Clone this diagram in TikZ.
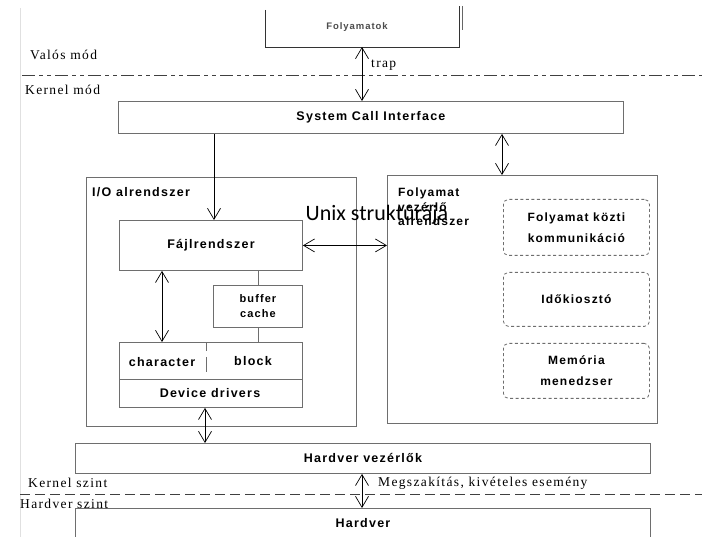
\documentclass[tikz,border=0pt]{standalone}
\usepackage{fontspec}
\setmainfont{Liberation Serif}
\newfontfamily\bx[LetterSpace=10]{Liberation Sans}
\newfontfamily\lb[LetterSpace=10]{Liberation Serif}
\newfontfamily\calfont{Carlito}
\usetikzlibrary{arrows.meta,calc}
\definecolor{boxgray}{RGB}{110,110,110}
\tikzset{
  box/.style={draw=boxgray, line width=0.9pt, rectangle, inner sep=0pt},
  dbox/.style={draw=boxgray, line width=0.8pt, rounded corners=5pt, dash pattern=on 3pt off 2.5pt, inner sep=0pt},
  btxt/.style={font=\bx\bfseries\fontsize{12.5}{14}\selectfont, align=center, inner sep=0pt},
  stxt/.style={font=\bx\bfseries\fontsize{12}{21}\selectfont, align=center, inner sep=0pt},
  ltxt/.style={font=\lb\fontsize{13.5}{15}\selectfont, anchor=base west, inner sep=0pt},
  dbl/.style={line width=0.7pt, {Straight Barb[length=11pt,width=13pt,line width=0.7pt]}-{Straight Barb[length=11pt,width=13pt,line width=0.7pt]}},
  one/.style={line width=0.7pt, -{Straight Barb[length=11pt,width=13pt,line width=0.7pt]}},
  plain/.style={line width=0.9pt, draw=boxgray}
}
\begin{document}
\begin{tikzpicture}[x=1pt,y=-1pt]
\useasboundingbox (0,0) rectangle (702,537);
% faint left border
\draw[black!12, line width=0.8pt] (20,8) -- (20,537);
% top box (open at top)
\draw[line width=0.9pt, black!80] (265,10) -- (265,47) -- (459,47) -- (459,6);
\draw[line width=0.6pt, black!60] (462,6) -- (462,30);
\node[font=\bx\bfseries\fontsize{9.5}{11}\selectfont, text=black!70] (user) at (357,27) {Folyamatok};
\coordinate (topb) at (362,47);
% mode labels and line
\node[ltxt] (valos) at (30,60) {Valós mód};
\node[ltxt] (kmod) at (25,95) {Kernel mód};
\coordinate (d1a) at (22,75);
\coordinate (d1b) at (702,75);
\draw[line width=0.8pt, black!75, dash pattern=on 13pt off 4pt on 4pt off 4pt on 4pt off 4pt] (d1a) -- (d1b);
% System call interface
\node[box, minimum width=505pt, minimum height=32pt, anchor=north west] (sci) at (118,101) {};
\node[btxt] at (sci.center) {System Call Interface};
\coordinate (scitop) at (362,101);
\draw[dbl] (topb) -- (scitop);
\node[ltxt] (trap) at (371,68) {trap};
% I/O subsystem
\node[box, minimum width=270pt, minimum height=249pt, anchor=north west] (io) at (86,177) {};
\node[btxt, anchor=base west] (iol) at (92,197) {I/O alrendszer};
\node[box, minimum width=183pt, minimum height=50pt, anchor=north west] (fs) at (119,220) {};
\node[btxt] at (fs.center) {Fájlrendszer};
\node[box, minimum width=89pt, minimum height=42pt, anchor=north west] (buf) at (213,285) {};
\node[stxt, font=\bx\bfseries\fontsize{11}{21}\selectfont] at (buf.center) {buffer\\[-6pt]cache};
\node[box, minimum width=183pt, minimum height=65pt, anchor=north west] (dd) at (119,342) {};
\draw[plain] (119,379) -- (302,379);
\draw[plain] (206,343) -- (206,351);
\draw[plain] (206,357) -- (206,372);
\node[btxt] (chr) at (162,362) {character};
\node[btxt] (blk) at (253,361) {block};
\node[btxt] (ddl) at (210,393) {Device drivers};
% process subsystem
\node[box, minimum width=270pt, minimum height=248pt, anchor=north west] (pr) at (387,175) {};
\node[stxt, anchor=base west, align=left] (prl) at (398,197) {Folyamat};
\node[stxt, anchor=base west, align=left] (prl2) at (398,212) {vezérlő};
\node[stxt, anchor=base west, align=left] (prl3) at (398,226) {alrendszer};
\node[dbox, minimum width=146pt, minimum height=56pt, anchor=north west] (ipc) at (503,199) {};
\node[stxt] at (ipc.center) {Folyamat közti\\kommunikáció};
\node[dbox, minimum width=146pt, minimum height=54pt, anchor=north west] (sch) at (503,272) {};
\node[stxt] at (sch.center) {Időkiosztó};
\node[dbox, minimum width=146pt, minimum height=55pt, anchor=north west] (mem) at (503,343) {};
\node[stxt] at (mem.center) {Memória\\menedzser};
% title overlay
\node[font=\calfont\fontsize{22}{24}\selectfont, anchor=base, inner sep=0pt] (title) at (377,221) {Unix struktúrája};
% arrows inside
\draw[one] (sci.south -| 214,0) -- (fs.north -| 214,0);
\draw[dbl] (sci.south -| 502,0) -- (pr.north -| 502,0);
\draw[dbl] (fs.east) -- (fs.east -| pr.west);
\draw[dbl] (fs.south -| 162,0) -- (dd.north -| 162,0);
\draw[plain] (fs.south -| buf.north) -- (buf.north);
\draw[plain] (buf.south) -- (buf.south |- dd.north);
% hardware controllers
\node[box, minimum width=575pt, minimum height=30pt, anchor=north west] (hv) at (75,443) {};
\node[btxt] at (hv.center) {Hardver vezérlők};
\draw[dbl] (dd.south -| 205,0) -- (hv.north -| 205,0);
\node[box, minimum width=575pt, minimum height=40pt, anchor=north west] (hw) at (75,508) {};
\node[btxt] at ($(hw.north)+(0,15)$) {Hardver};
\draw[dbl] (hv.south -| 362,0) -- (hw.north -| 362,0);
\node[ltxt] (megs) at (378,486) {Megszakítás, kivételes esemény};
\node[ltxt] (ksz) at (28,487) {Kernel szint};
\node[ltxt] (hsz) at (20,508) {Hardver szint};
\coordinate (d2a) at (20,494);
\coordinate (d2b) at (702,494);
\draw[line width=0.8pt, black!75, dash pattern=on 10pt off 5pt] (d2a) -- (d2b);
\end{tikzpicture}
\end{document}
